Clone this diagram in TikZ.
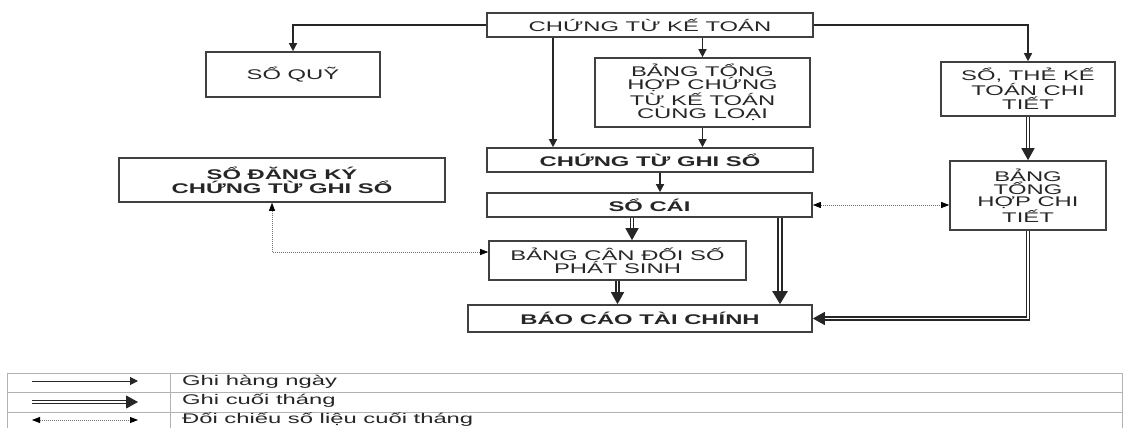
\documentclass[tikz,border=0pt]{standalone}
\usepackage{fontspec}
\newfontfamily\bx[FakeStretch=1.7]{Liberation Sans}
\usetikzlibrary{arrows.meta}
\begin{document}
\begin{tikzpicture}[x=1pt,y=-1pt,
  box/.style={draw=black!75, line width=1.6pt, inner sep=0pt, align=center, text=black!85,
    font={\bx\fontsize{14}{12}\selectfont}},
  boxb/.style={box, font={\bx\bfseries\fontsize{14}{12}\selectfont}},
  arr/.style={draw=black!85, line width=1.3pt, -{Triangle[length=8pt,width=8pt]}},
  dbl/.style={draw=black!85, line width=1.3pt, double=white, double distance=1.6pt,
    -{Triangle[length=12pt,width=13pt]}},
  dblthick/.style={draw=black!85, line width=2.2pt, double=white, double distance=1.4pt,
    -{Triangle[length=13pt,width=15pt]}},
  dott/.style={draw=black!55, line width=0.8pt, dash pattern=on 1pt off 1pt,
    {Triangle[length=8pt,width=6pt,color=black]}-{Triangle[length=8pt,width=6pt,color=black]}},
  tbl/.style={draw=black!30, line width=1pt},
  leg/.style={inner sep=0pt, anchor=base west, text=black!85, font={\bx\fontsize{14}{14}\selectfont}}
]
\useasboundingbox (0,0) rectangle (1123,428);

% boxes
\node[box, minimum width=326pt, minimum height=24pt] (ctkt) at (650,25) {CHỨNG TỪ KẾ TOÁN};
\node[box, minimum width=174pt, minimum height=45pt] (soquy) at (293,74.5) {SỔ QUỸ};
\node[box, minimum width=215pt, minimum height=69pt] (bth) at (702.5,92.5) {BẢNG TỔNG\\HỢP CHỨNG\\TỪ KẾ TOÁN\\CÙNG LOẠI};
\node[box, minimum width=174pt, minimum height=54pt] (sothe) at (1028,89) {SỔ, THẺ KẾ\\TOÁN CHI\\TIẾT};
\node[box, minimum width=156pt, minimum height=69pt] (bthct) at (1028,195.5) {BẢNG\\TỔNG\\HỢP CHI\\TIẾT};
\node[boxb, minimum width=326pt, minimum height=44pt] (sodk) at (282,180) {SỔ ĐĂNG KÝ\\CHỨNG TỪ GHI SỔ};
\node[boxb, minimum width=326pt, minimum height=24pt] (ctgs) at (650,160) {CHỨNG TỪ GHI SỔ};
\node[boxb, minimum width=325pt, minimum height=24pt] (socai) at (649.5,205) {SỔ CÁI};
\node[box, minimum width=257pt, minimum height=39pt] (bcd) at (617.5,260.5) {BẢNG CÂN ĐỐI SỐ\\PHÁT SINH};
\node[boxb, minimum width=344pt, minimum height=27pt] (bctc) at (640,318.5) {BÁO CÁO TÀI CHÍNH};

% connectors
\coordinate (xa) at (553,0);
\coordinate (xb) at (660,0);
\coordinate (xc) at (632,0);
\coordinate (xd) at (780,0);
\coordinate (dk) at (272,252);
\draw[arr] (ctkt.west) -| (soquy.north);
\draw[arr] (ctkt.east) -| (sothe.north);
\draw[arr] (ctkt.south -| xa) -- (ctgs.north -| xa);
\draw[arr] (ctkt.south -| bth.north) -- (bth.north);
\draw[arr] (bth.south) -- (ctgs.north -| bth.south);
\draw[arr] (ctgs.south -| xb) -- (socai.north -| xb);
\draw[dbl] (socai.south -| xc) -- (bcd.north -| xc);
\draw[dbl] (bcd.south) -- (bctc.north -| bcd.south);
\draw[dblthick] (socai.south -| xd) -- (bctc.north -| xd);
\draw[dbl] (sothe.south) -- (bthct.north);
\draw[dbl] (bthct.south) |- (bctc.east);
\draw[dott] (socai.east) -- (socai.east -| bthct.west);
\draw[dott] (sodk.south -| dk) |- (bcd.west |- dk);

% legend table
\draw[tbl] (7,428) -- (7,373) -- (1122,373) -- (1122,428);
\draw[tbl] (7,392) -- (1122,392);
\draw[tbl] (7,412) -- (1122,412);
\draw[tbl] (170,373) -- (170,428);
\coordinate (a1) at (32,381); \coordinate (b1) at (138,381);
\coordinate (a2) at (32,402); \coordinate (b2) at (138,402);
\coordinate (a3) at (32,420); \coordinate (b3) at (138,420);
\draw[arr, line width=1pt] (a1) -- (b1);
\draw[dbl, line width=1pt] (a2) -- (b2);
\draw[dott] (a3) -- (b3);
\node[leg] (t1) at (182,385) {Ghi hàng ngày};
\node[leg] (t2) at (182,404.5) {Ghi cuối tháng};
\node[leg] (t3) at (182,423.5) {Đối chiếu số liệu cuối tháng};
\end{tikzpicture}
\end{document}
